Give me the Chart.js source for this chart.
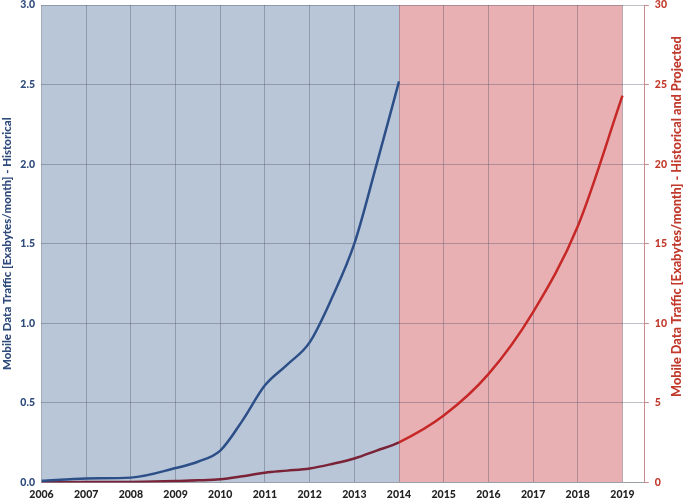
<!DOCTYPE html>
<html>
<head>
<meta charset="utf-8">
<script src="https://cdn.jsdelivr.net/npm/chart.js@4.4.1/dist/chart.umd.min.js"></script>
<style>
html, body { margin: 0; padding: 0; background: #fff; }
#wrap { width: 683px; height: 500px; position: relative; }
</style>
</head>
<body>
<div id="wrap"><canvas id="traffic-canvas"></canvas></div>
<script>
// 移动数据流量：历史 + 预测
const histYears = [2006, 2007, 2008, 2009, 2009.5, 2010, 2010.5, 2011, 2011.5, 2012, 2012.5, 2013, 2013.5, 2014];
const histTraffic = [0.01, 0.025, 0.03, 0.09, 0.13, 0.2, 0.39, 0.61, 0.74, 0.88, 1.16, 1.5, 2.0, 2.52];
const projYears = [2015, 2016, 2017, 2018, 2019];
const projTraffic = [4.2, 6.8, 10.7, 16.1, 24.3];

const yearTicks = [2006, 2007, 2008, 2009, 2010, 2011, 2012, 2013, 2014, 2015, 2016, 2017, 2018, 2019];
const leftTicks = [0, 0.5, 1.0, 1.5, 2.0, 2.5, 3.0];
const rightTicks = [0, 5, 10, 15, 20, 25, 30];

const historicalSpan = [2006, 2014];
const projectedSpan = [2014, 2019];

const BLUE = '#2d4f88';
const BLUE_TEXT = '#2e4a7a';
const RED = '#c62828';
const RED_DARK = '#7a2236';
const RED_TEXT = '#c0392b';
const FONT = 'Lato, "Open Sans", sans-serif';
const RIGHT_TITLE = 'Mobile Data Traffic [Exabytes/month] - Historical and Projected';

function toPoints(xs, ys) {
  return xs.map((x, i) => ({ x: x, y: ys[i] }));
}

// 背景色块（历史蓝 / 预测红）
const spanBackground = {
  id: 'spanBackground',
  beforeDraw(chart) {
    var ctx = chart.ctx;
    var area = chart.chartArea;
    var xs = chart.scales.x;
    ctx.save();
    ctx.fillStyle = '#b9c6d8';
    ctx.fillRect(xs.getPixelForValue(historicalSpan[0]), area.top,
      xs.getPixelForValue(historicalSpan[1]) - xs.getPixelForValue(historicalSpan[0]), area.bottom - area.top);
    ctx.fillStyle = '#e8b0b2';
    ctx.fillRect(xs.getPixelForValue(projectedSpan[0]), area.top,
      xs.getPixelForValue(projectedSpan[1]) - xs.getPixelForValue(projectedSpan[0]), area.bottom - area.top);
    ctx.restore();
  },
  // 右侧标题：自下而上书写
  afterDraw(chart) {
    var ctx = chart.ctx;
    ctx.save();
    ctx.translate(chart.width - 6, 397);
    ctx.rotate(-Math.PI / 2);
    ctx.fillStyle = RED_TEXT;
    ctx.font = '900 12.7px ' + FONT;
    ctx.textAlign = 'left';
    ctx.textBaseline = 'middle';
    ctx.fillText(RIGHT_TITLE, 0, 0);
    ctx.restore();
  }
};

const fixedTicks = list => scale => { scale.ticks = list.map(v => ({ value: v })); };
// 去掉刻度标签带来的上下留白
const noVertPad = scale => { scale.paddingTop = 0; scale.paddingBottom = 0; };

new Chart(document.getElementById('traffic-canvas'), {
  type: 'line',
  data: {
    datasets: [
      {
        label: 'Historical',
        data: toPoints(histYears, histTraffic),
        yAxisID: 'y',
        borderColor: BLUE,
        borderWidth: 2.5,
        pointRadius: 0,
        cubicInterpolationMode: 'monotone',
        fill: false
      },
      {
        label: 'Historical and Projected',
        data: toPoints(histYears.concat(projYears), histTraffic.concat(projTraffic)),
        yAxisID: 'y1',
        borderColor: RED,
        borderWidth: 2.5,
        pointRadius: 0,
        cubicInterpolationMode: 'monotone',
        fill: false,
        segment: {
          borderColor: c => c.p1.parsed.x <= historicalSpan[1] ? RED_DARK : RED
        }
      }
    ]
  },
  options: {
    responsive: true,
    maintainAspectRatio: false,
    animation: false,
    layout: { padding: { top: 5, right: 10, left: 0, bottom: -7 } },
    plugins: {
      legend: { display: false },
      tooltip: { enabled: false }
    },
    scales: {
      x: {
        type: 'linear',
        min: 2006,
        max: 2019.5,
        afterBuildTicks: fixedTicks(yearTicks),
        grid: { color: 'rgba(70, 72, 95, 0.35)', lineWidth: 1, drawTicks: false },
        border: { color: '#9aa0aa', width: 1 },
        ticks: {
          color: '#222',
          padding: 6,
          maxRotation: 0,
          autoSkip: false,
          font: { family: FONT, size: 10.5, weight: '900' },
          callback: v => String(v)
        }
      },
      y: {
        position: 'left',
        min: 0,
        max: 3,
        afterBuildTicks: fixedTicks(leftTicks),
        afterFit: noVertPad,
        grid: { color: 'rgba(70, 72, 95, 0.35)', lineWidth: 1, drawTicks: false },
        border: { display: false },
        ticks: {
          color: BLUE_TEXT,
          padding: 6.5,
          font: { family: FONT, size: 10.5, weight: '900' },
          callback: v => v.toFixed(1)
        },
        title: {
          display: true,
          text: 'Mobile Data Traffic [Exabytes/month] - Historical',
          color: BLUE_TEXT,
          padding: { top: 0, bottom: 0 },
          font: { family: FONT, size: 11.5, weight: '900' }
        }
      },
      y1: {
        position: 'right',
        min: 0,
        max: 30,
        afterBuildTicks: fixedTicks(rightTicks),
        afterFit: noVertPad,
        grid: { drawOnChartArea: false, color: '#c98c8c', tickLength: 4 },
        border: { color: '#c98c8c', width: 1 },
        ticks: {
          color: RED_TEXT,
          padding: 6,
          font: { family: FONT, size: 10.5, weight: '900' },
          callback: v => String(v)
        }
      }
    }
  },
  plugins: [spanBackground]
});
</script>
</body>
</html>
